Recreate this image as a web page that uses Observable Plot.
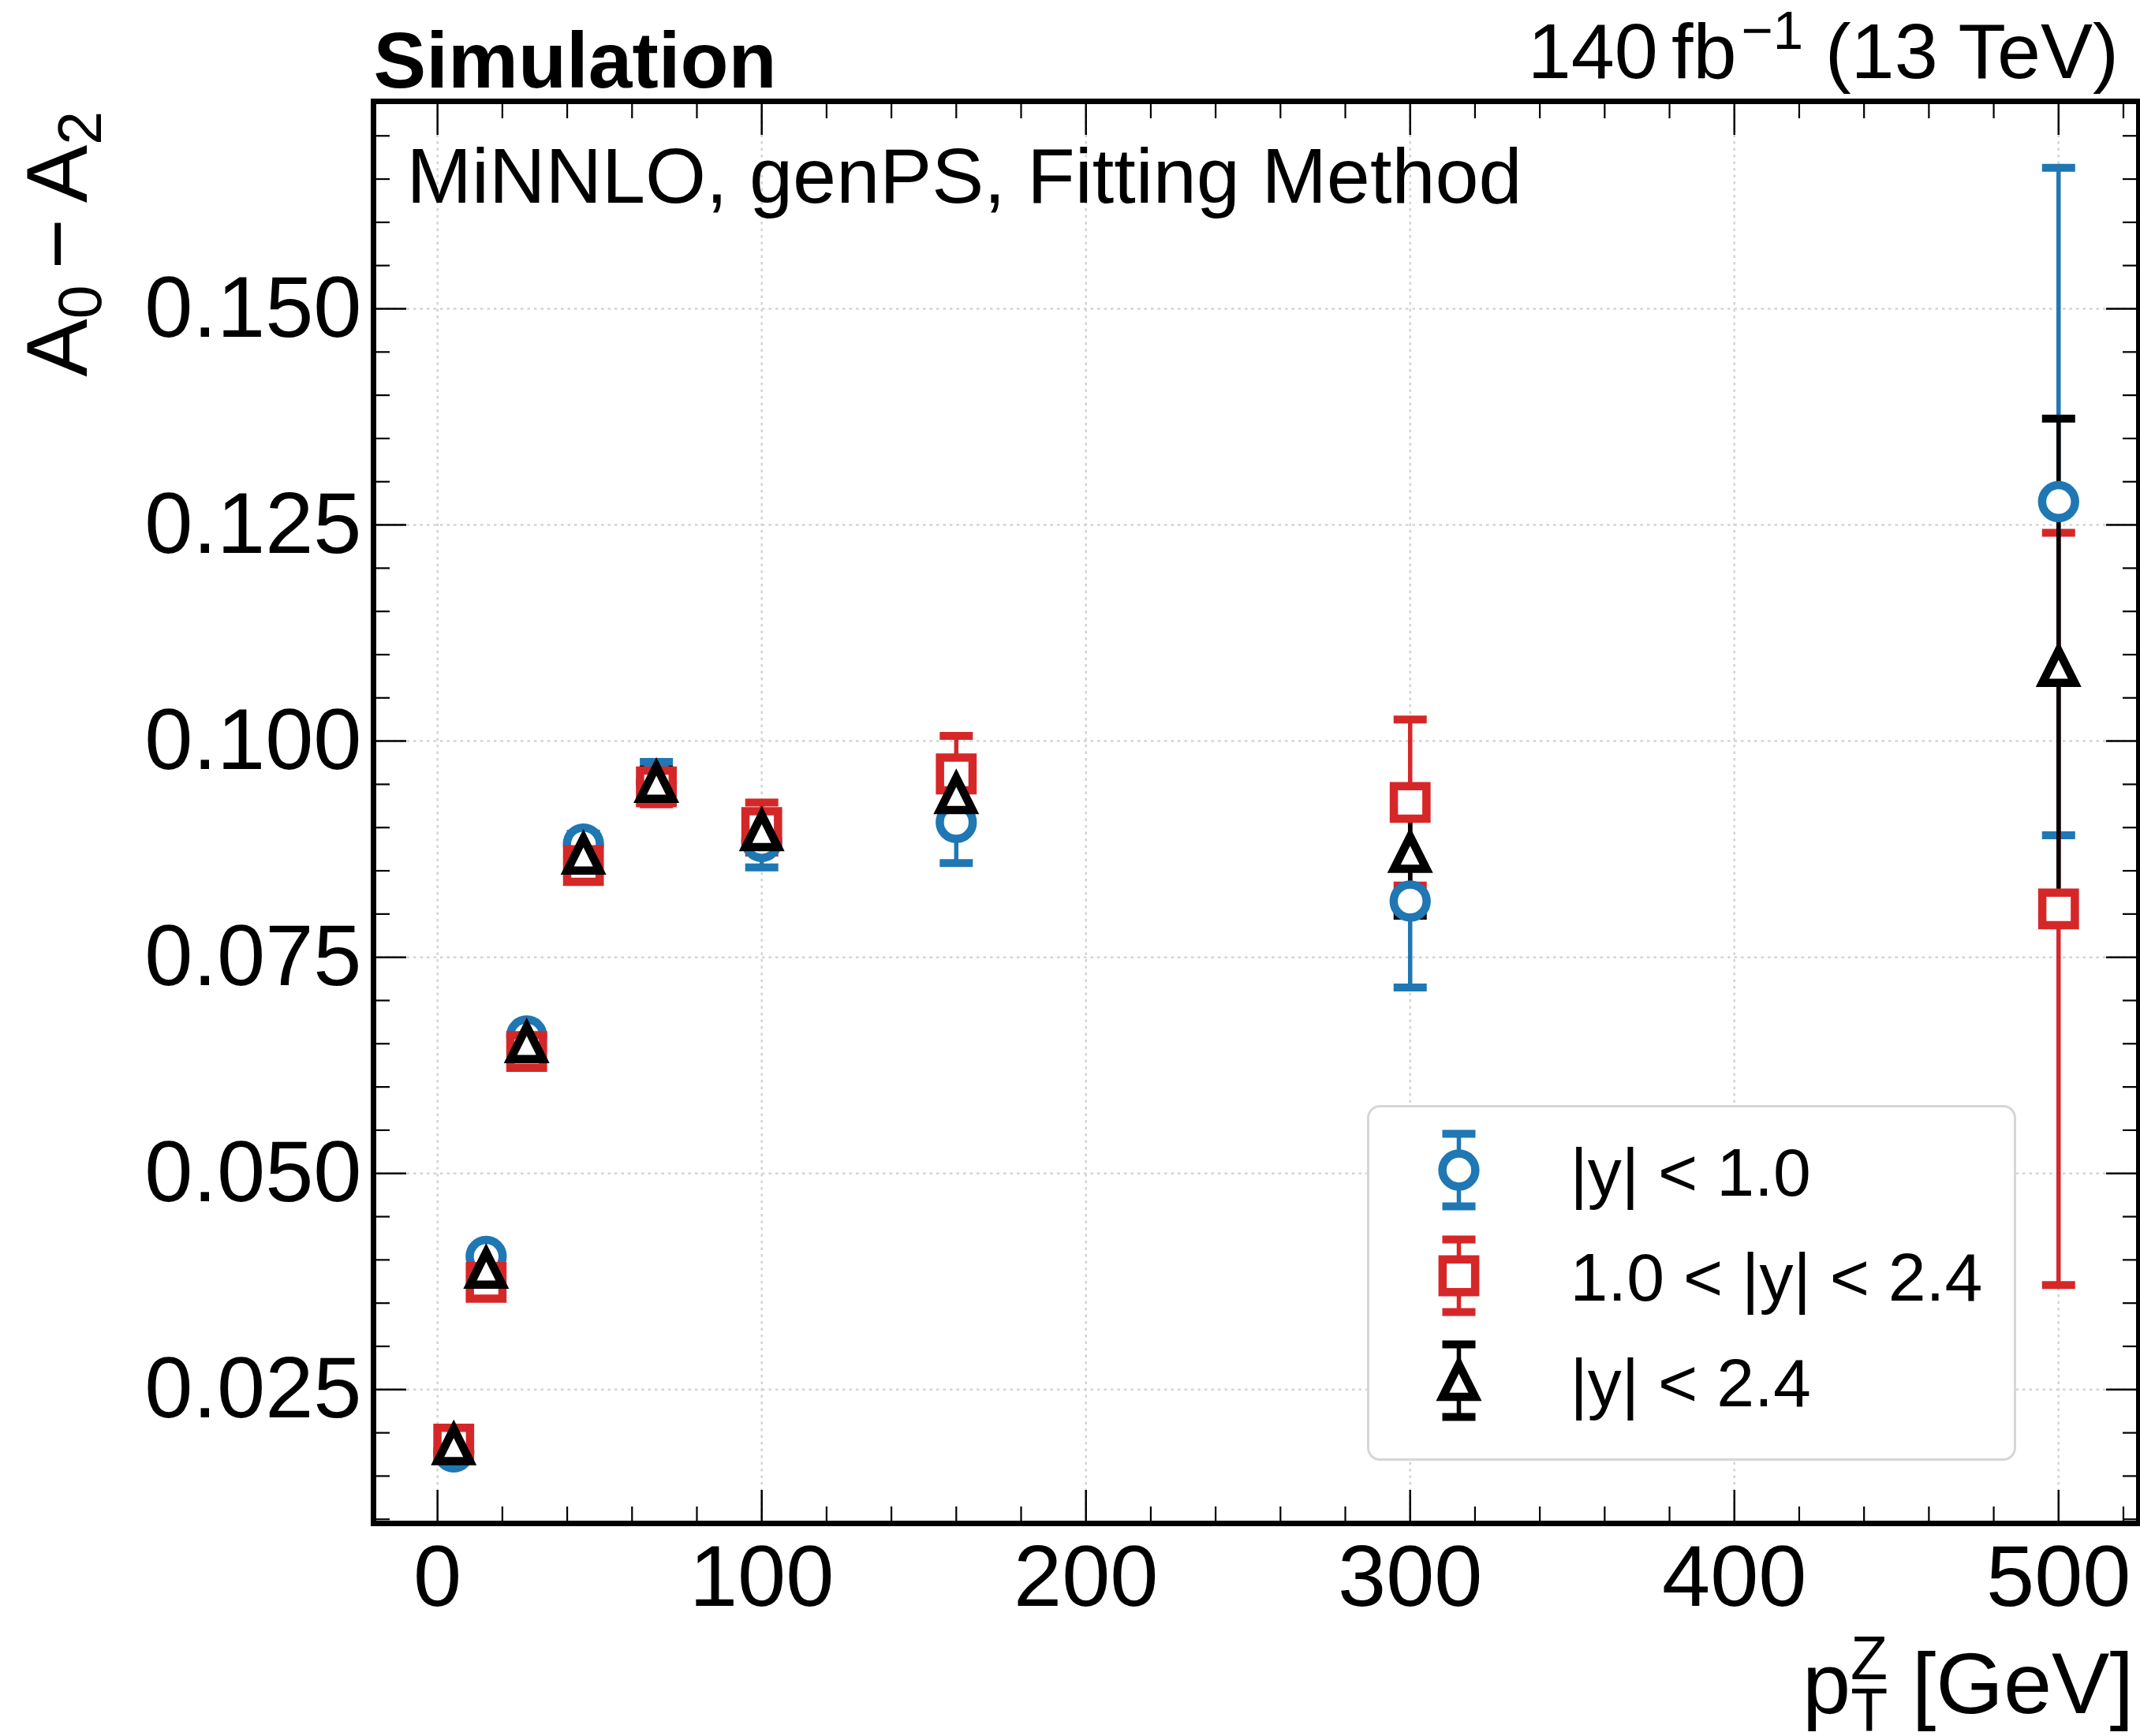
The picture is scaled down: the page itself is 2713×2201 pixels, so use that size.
<!DOCTYPE html>
<html><head><meta charset="utf-8">
<script src="https://cdn.jsdelivr.net/npm/d3@7"></script>
<script src="https://cdn.jsdelivr.net/npm/@observablehq/plot@0.6"></script>
<style>html,body{margin:0;padding:0;background:#fff;} svg{display:block}</style>
</head><body><div id="chart"></div>
<script>
// ---------------- data ----------------
const ptBins = [5, 15, 27.5, 45, 67.5, 100, 160, 300, 500];
const seriesNames = ["|y| < 1.0", "1.0 < |y| < 2.4", "|y| < 2.4"];
const seriesColors = ["#1f77b4", "#d62728", "#000000"];
const centralVals   = [0.0178, 0.0404, 0.0659, 0.0881, 0.0952, 0.0884, 0.0906, 0.0815, 0.1277];
const centralErrs   = [0.0004, 0.0006, 0.0008, 0.0012, 0.0024, 0.0030, 0.0047, 0.0100, 0.0386];
const forwardVals   = [0.0187, 0.0374, 0.0641, 0.0856, 0.0947, 0.0900, 0.0962, 0.0929, 0.0806];
const forwardErrs   = [0.0005, 0.0007, 0.0010, 0.0014, 0.0020, 0.0029, 0.0044, 0.0096, 0.0435];
const inclusiveVals = [0.0186, 0.0390, 0.0651, 0.0869, 0.0952, 0.0896, 0.0939, 0.0871, 0.1086];
const inclusiveErrs = [0.0003, 0.0004, 0.0006, 0.0009, 0.0015, 0.0020, 0.0025, 0.0073, 0.0287];
const xTicks = [0, 100, 200, 300, 400, 500];
const xTickLabels = ["0", "100", "200", "300", "400", "500"];
const yTicks = [0.025, 0.05, 0.075, 0.1, 0.125, 0.15];
const yTickLabels = ["0.025", "0.050", "0.075", "0.100", "0.125", "0.150"];
const titleLeft = "Simulation";
const annotation = "MiNNLO, genPS, Fitting Method";

// ---------------- layout / style ----------------
const FONT = "'Liberation Sans', Arial, Helvetica, sans-serif";
const W = 2713, H = 2201, mL = 473, mR = 2, mT = 128, mB = 270;
const xDomain = [-19.75, 524.75], yDomain = [0.00952, 0.17399];

const xMinor = d3.range(-20, 541, 20).filter(v => v >= xDomain[0] && v <= xDomain[1] && !xTicks.includes(v));
const yMinor = d3.range(1, 36).map(i => +(i * 0.005).toFixed(3))
  .filter(v => v >= yDomain[0] && v <= yDomain[1] && !yTicks.some(t => Math.abs(t - v) < 1e-9));
const xLabelMap = new Map(xTicks.map((t, i) => [t, xTickLabels[i]]));
const yLabelMap = new Map(yTicks.map((t, i) => [t, yTickLabels[i]]));

const triSym = {draw(ctx, size) { const r = Math.sqrt(size / Math.PI); ctx.moveTo(0, -r); ctx.lineTo(r, r); ctx.lineTo(-r, r); ctx.closePath(); }};
const sqSym = {draw(ctx, size) { const r = Math.sqrt(size / Math.PI); ctx.moveTo(-r, -r); ctx.lineTo(r, -r); ctx.lineTo(r, r); ctx.lineTo(-r, r); ctx.closePath(); }};
const capSym = {draw(ctx) { ctx.moveTo(-21, -5); ctx.lineTo(21, -5); ctx.lineTo(21, 5); ctx.lineTo(-21, 5); ctx.closePath(); }};
const legBarSym = {draw(ctx) {
  ctx.moveTo(-2.75, -46); ctx.lineTo(2.75, -46); ctx.lineTo(2.75, 46); ctx.lineTo(-2.75, 46); ctx.closePath();
  ctx.moveTo(-21, -51); ctx.lineTo(21, -51); ctx.lineTo(21, -41); ctx.lineTo(-21, -41); ctx.closePath();
  ctx.moveTo(-21, 41); ctx.lineTo(21, 41); ctx.lineTo(21, 51); ctx.lineTo(-21, 51); ctx.closePath();
}};

const series = [
  {name: seriesNames[0], color: seriesColors[0], vals: centralVals, errs: centralErrs, symbol: "circle", r: 20.9},
  {name: seriesNames[1], color: seriesColors[1], vals: forwardVals, errs: forwardErrs, symbol: sqSym, r: 20.65},
  {name: seriesNames[2], color: seriesColors[2], vals: inclusiveVals, errs: inclusiveErrs, symbol: triSym, r: 20.5}
];
const rowsOf = s => ptBins.map((x, i) => ({x, y: s.vals[i], e: s.errs[i]}));

const marks = [];
const gridStyle = {stroke: "#d4d4d4", strokeWidth: 2.5, strokeDasharray: "3.5,5", strokeOpacity: 1};
marks.push(Plot.gridX(xTicks, gridStyle));
marks.push(Plot.gridY(yTicks, gridStyle));

// error bars
for (const s of series) {
  const rows = rowsOf(s);
  marks.push(Plot.ruleX(rows, {x: "x", y1: d => d.y - d.e, y2: d => d.y + d.e, stroke: s.color, strokeWidth: 5.5}));
  marks.push(Plot.dot(rows, {x: "x", y: d => d.y + d.e, symbol: capSym, r: 1, fill: s.color, stroke: "none"}));
  marks.push(Plot.dot(rows, {x: "x", y: d => d.y - d.e, symbol: capSym, r: 1, fill: s.color, stroke: "none"}));
}
// markers
for (const s of series) {
  marks.push(Plot.dot(rowsOf(s), {x: "x", y: "y", symbol: s.symbol, r: s.r, stroke: s.color, strokeWidth: 10.5, fill: "white", strokeLinejoin: "miter"}));
}

// legend
marks.push(Plot.frame({fill: "white", stroke: "#d6d6d6", strokeWidth: 3, rx: 15,
  insetLeft: 1734 - mL, insetTop: 1402 - mT, insetRight: (W - mR) - 2554, insetBottom: (H - mB) - 1850}));
const legRowY = [1483, 1617, 1750];
const legBase = [1515, 1648, 1782];
series.forEach((s, i) => {
  marks.push(Plot.dot([s], {frameAnchor: "top-left", dx: 1849 - mL, dy: legRowY[i] - mT, symbol: legBarSym, r: 1, fill: s.color, stroke: "none"}));
  marks.push(Plot.dot([s], {frameAnchor: "top-left", dx: 1849 - mL, dy: legRowY[i] - mT, symbol: s.symbol, r: s.r, stroke: s.color, strokeWidth: 10.5, fill: "white"}));
  marks.push(Plot.text([s.name], {text: d => d, frameAnchor: "top-left", dx: 1990 - mL, dy: legBase[i] - mT, textAnchor: "start", lineAnchor: "bottom", fontSize: 86, fill: "black"}));
});

// texts
marks.push(Plot.text([titleLeft], {text: d => d, frameAnchor: "top-left", dx: 0, dy: 110 - mT, textAnchor: "start", lineAnchor: "bottom", fontSize: 100, fontWeight: "bold", fill: "black"}));
marks.push(Plot.text([annotation], {text: d => d, frameAnchor: "top-left", dx: 515 - mL, dy: 256 - mT, textAnchor: "start", lineAnchor: "bottom", fontSize: 99, fill: "black"}));

// axes: labels
marks.push(Plot.axisY(yTicks, {anchor: "left", tickSize: 0, tickPadding: 15, tickFormat: d => yLabelMap.get(d), fontSize: 110, label: null}));
marks.push(Plot.axisX(xTicks, {anchor: "bottom", tickSize: 0, tickPadding: 26, tickFormat: d => xLabelMap.get(d), fontSize: 110, label: null}));
// axes: inward ticks on all sides
const tk = (ticks, len, sw) => [
  Plot.axisY(ticks, {anchor: "left", tickSize: len, dx: len, fill: "none", stroke: "black", strokeWidth: sw, label: null}),
  Plot.axisY(ticks, {anchor: "right", tickSize: len, dx: -len, fill: "none", stroke: "black", strokeWidth: sw, label: null})
];
const tkx = (ticks, len, sw) => [
  Plot.axisX(ticks, {anchor: "bottom", tickSize: len, dy: -len, fill: "none", stroke: "black", strokeWidth: sw, label: null}),
  Plot.axisX(ticks, {anchor: "top", tickSize: len, dy: len, fill: "none", stroke: "black", strokeWidth: sw, label: null})
];
marks.push(...tk(yTicks, 42, 2.5), ...tk(yMinor, 21, 2.2), ...tkx(xTicks, 42, 2.5), ...tkx(xMinor, 21, 2.2));
marks.push(Plot.frame({stroke: "black", strokeWidth: 7}));

const chart = Plot.plot({
  width: W, height: H,
  marginLeft: mL, marginRight: mR, marginTop: mT, marginBottom: mB,
  x: {domain: xDomain},
  y: {domain: yDomain},
  style: {fontFamily: FONT, fontSize: "110px", background: "white", color: "black"},
  marks
});
document.getElementById("chart").appendChild(chart);

// rich-text labels (sub/superscripts)
const svg = d3.select(chart);
const lumi = svg.append("text").attr("x", 2686).attr("y", 99).attr("text-anchor", "end")
  .attr("font-size", 99).attr("font-family", FONT).attr("fill", "black");
lumi.append("tspan").text("140");
lumi.append("tspan").attr("dx", 17).text("fb");
lumi.append("tspan").attr("dx", 6).attr("dy", -37).attr("font-size", 69).text("\u22121");
lumi.append("tspan").attr("dy", 37).text(" (13 TeV)");

const xl = svg.append("text").attr("x", 2705).attr("y", 2172).attr("text-anchor", "end")
  .attr("font-size", 110).attr("font-family", FONT).attr("fill", "black");
xl.append("tspan").text("p");
xl.append("tspan").attr("font-size", 77).attr("dy", -43).text("Z");
xl.append("tspan").attr("font-size", 77).attr("dx", -47).attr("dy", 66).text("T");
xl.append("tspan").attr("dy", -23).text(" [GeV]");

const yl = svg.append("text").attr("transform", "translate(110,141) rotate(-90)").attr("text-anchor", "end")
  .attr("font-size", 110).attr("font-family", FONT).attr("fill", "black");
yl.append("tspan").text("A");
yl.append("tspan").attr("font-size", 77).attr("dy", 18).text("0");
yl.append("tspan").attr("dy", -18).attr("dx", 20).text("\u2212");
yl.append("tspan").attr("dx", 20).text("A");
yl.append("tspan").attr("font-size", 77).attr("dy", 18).text("2");
</script>
</body></html>
